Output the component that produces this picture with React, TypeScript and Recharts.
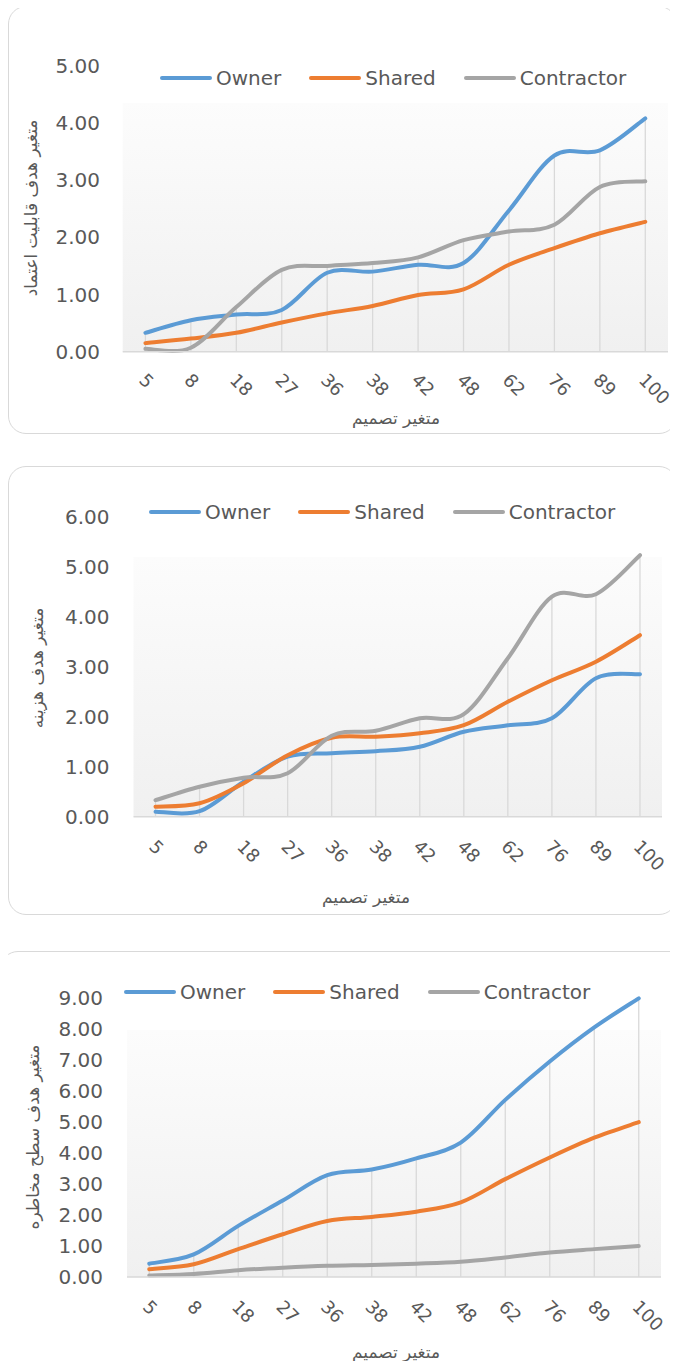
import React from 'react';
import { LineChart, Line, XAxis, YAxis, ReferenceLine, CartesianGrid, Legend } from 'recharts';

// x categories shared by all three charts
const categories = ['5', '8', '18', '27', '36', '38', '42', '48', '62', '76', '89', '100'];
const seriesNames = ['Owner', 'Shared', 'Contractor'];
const seriesColors = ['#5B9BD5', '#ED7D31', '#A5A5A5'];

// chart 1 - reliability objective
const reliabilityOwner = [0.33, 0.55, 0.65, 0.73, 1.38, 1.40, 1.52, 1.55, 2.47, 3.43, 3.52, 4.08];
const reliabilityShared = [0.15, 0.23, 0.33, 0.51, 0.67, 0.80, 0.99, 1.09, 1.52, 1.81, 2.07, 2.27];
const reliabilityContractor = [0.05, 0.07, 0.78, 1.43, 1.50, 1.55, 1.65, 1.95, 2.10, 2.22, 2.88, 2.98];
const reliabilityTicks = [0, 1, 2, 3, 4, 5];

// chart 2 - cost objective
const costOwner = [0.10, 0.11, 0.70, 1.20, 1.27, 1.31, 1.40, 1.70, 1.83, 1.97, 2.77, 2.85];
const costShared = [0.20, 0.27, 0.67, 1.23, 1.58, 1.60, 1.67, 1.83, 2.30, 2.73, 3.10, 3.63];
const costContractor = [0.33, 0.60, 0.78, 0.87, 1.62, 1.72, 1.97, 2.05, 3.17, 4.40, 4.45, 5.23];
const costTicks = [0, 1, 2, 3, 4, 5, 6];

// chart 3 - risk level objective
const riskOwner = [0.43, 0.73, 1.65, 2.47, 3.29, 3.47, 3.83, 4.34, 5.72, 6.96, 8.06, 9.00];
const riskShared = [0.25, 0.41, 0.90, 1.38, 1.81, 1.94, 2.11, 2.41, 3.16, 3.86, 4.50, 5.00];
const riskContractor = [0.05, 0.10, 0.22, 0.30, 0.36, 0.39, 0.43, 0.49, 0.63, 0.79, 0.90, 1.00];
const riskTicks = [0, 1, 2, 3, 4, 5, 6, 7, 8, 9];

const FONT = '"DejaVu Sans", sans-serif';
const TEXT = '#595959';
const GRID = '#d9d9d9';
const XAXIS_H = 60;

// Excel style smoothed line (catmull-rom through the points)
const excelSmooth = (context: any) => {
  let pts: number[][] = [];
  return {
    areaStart() {},
    areaEnd() {},
    lineStart() {
      pts = [];
    },
    point(x: number, y: number) {
      pts.push([x, y]);
    },
    lineEnd() {
      if (!pts.length) return;
      context.moveTo(pts[0][0], pts[0][1]);
      for (let i = 0; i < pts.length - 1; i++) {
        const p0 = pts[i - 1] || pts[i];
        const p1 = pts[i];
        const p2 = pts[i + 1];
        const p3 = pts[i + 2] || p2;
        context.bezierCurveTo(
          p1[0] + (p2[0] - p0[0]) / 6,
          p1[1] + (p2[1] - p0[1]) / 6,
          p2[0] - (p3[0] - p1[0]) / 6,
          p2[1] - (p3[1] - p1[1]) / 6,
          p2[0],
          p2[1]
        );
      }
    },
  };
};

const buildRows = (owner: number[], shared: number[], contractor: number[]) =>
  categories.map((cat, i) => ({
    cat,
    Owner: owner[i],
    Shared: shared[i],
    Contractor: contractor[i],
    peak: Math.max(owner[i], shared[i], contractor[i]),
  }));

type Layout = {
  top: number;
  height: number;
  plotTop: number;
  plotBottom: number;
  plotLeft: number;
  plotRight: number;
  bgTop: number;
  tickGap: number;
  xTickDy: number;
  legendLeft: number;
  legendY: number;
  yTitleX: number;
  yTitleY: number;
  xTitleX: number;
  xTitleY: number;
};

const YTick = (props: any) => {
  const { x, y, payload } = props;
  return (
    <text x={x} y={y} dy={7} textAnchor="end" fontFamily={FONT} fontSize={20} fill={TEXT}>
      {Number(payload.value).toFixed(2)}
    </text>
  );
};

const XTick = (props: any) => {
  const { x, y, payload, shiftY } = props;
  const tx = x - 7.5;
  const ty = y + shiftY;
  return (
    <text x={tx} y={ty} transform={`rotate(45 ${tx} ${ty})`} textAnchor="start" fontFamily={FONT} fontSize={18} fill={TEXT}>
      {payload.value}
    </text>
  );
};

const AxisTitle = (props: any) => {
  const { px, py, rot, title } = props;
  return (
    <text
      x={px}
      y={py}
      transform={rot ? `rotate(${rot} ${px} ${py})` : undefined}
      textAnchor="middle"
      dominantBaseline="central"
      fontFamily={FONT}
      fontSize={17}
      fill={TEXT}
    >
      {title}
    </text>
  );
};

const LegendRow = (props: any) => {
  const items = [...(props.payload || [])].sort(
    (a: any, b: any) => seriesNames.indexOf(a.value) - seriesNames.indexOf(b.value)
  );
  return (
    <div style={{ display: 'flex', alignItems: 'center', fontFamily: FONT, fontSize: 20, color: TEXT, whiteSpace: 'nowrap', lineHeight: '24px' }}>
      {items.map((p: any) => (
        <div key={p.value} style={{ display: 'flex', alignItems: 'center', marginRight: 28 }}>
          <span style={{ display: 'inline-block', width: 52, height: 4, borderRadius: 2, background: p.color, marginRight: 4 }} />
          <span>{p.value}</span>
        </div>
      ))}
    </div>
  );
};

type ChartProps = {
  id: string;
  layout: Layout;
  rows: any[];
  ticks: number[];
  yTitle: string;
  xTitle: string;
};

const ObjectiveChart = ({ id, layout, rows, ticks, yTitle, xTitle }: ChartProps) => {
  const L = layout;
  const band = (L.plotRight - L.plotLeft) / categories.length;
  const yMax = ticks[ticks.length - 1];
  const fadeStop = 1 - L.bgTop / yMax;
  return (
    <div style={{ position: 'absolute', left: 0, top: L.top }}>
      <LineChart
        width={678}
        height={L.height}
        data={rows}
        margin={{
          top: L.plotTop - L.top,
          left: 0,
          right: 678 - L.plotRight,
          bottom: L.top + L.height - L.plotBottom - XAXIS_H,
        }}
      >
        <defs>
          <linearGradient id={`bg-${id}`} x1="0" y1="0" x2="0" y2="1">
            <stop offset="0%" stopColor="#ffffff" />
            <stop offset={fadeStop} stopColor="#ffffff" />
            <stop offset={fadeStop} stopColor="#fcfcfc" />
            <stop offset="100%" stopColor="#f0f0f0" />
          </linearGradient>
        </defs>
        <CartesianGrid horizontal={false} vertical={false} fill={`url(#bg-${id})`} fillOpacity={1} />
        <XAxis
          dataKey="cat"
          type="category"
          height={XAXIS_H}
          padding={{ left: band / 2, right: band / 2 }}
          axisLine={{ stroke: GRID, strokeWidth: 1.5 }}
          tickLine={false}
          tickSize={0}
          tickMargin={0}
          interval={0}
          tick={<XTick shiftY={L.xTickDy} />}
          label={<AxisTitle px={L.xTitleX} py={L.xTitleY - L.top} title={xTitle} />}
        />
        <YAxis
          type="number"
          domain={[0, yMax]}
          ticks={ticks}
          width={L.plotLeft}
          axisLine={false}
          tickLine={false}
          tickSize={0}
          tickMargin={L.tickGap}
          interval={0}
          tick={<YTick />}
          label={<AxisTitle px={L.yTitleX} py={L.yTitleY - L.top} rot={-90} title={yTitle} />}
        />
        {rows.map((r) => (
          <ReferenceLine
            key={r.cat}
            segment={[
              { x: r.cat, y: 0 },
              { x: r.cat, y: r.peak },
            ]}
            stroke={GRID}
            strokeWidth={1.3}
          />
        ))}
        <Legend
          layout="horizontal"
          verticalAlign="middle"
          align="center"
          content={<LegendRow />}
          wrapperStyle={{ left: L.legendLeft, top: L.legendY - L.top - 12, width: 'auto', height: 24 }}
        />
        {seriesNames.map((name, i) => (
          <Line
            key={name}
            dataKey={name}
            name={name}
            type={excelSmooth as any}
            stroke={seriesColors[i]}
            strokeWidth={4}
            strokeLinecap="round"
            dot={false}
            activeDot={false}
            isAnimationActive={false}
          />
        ))}
      </LineChart>
    </div>
  );
};

const reliabilityLayout: Layout = {
  top: 0, height: 440, plotTop: 65.7, plotBottom: 351.7, plotLeft: 122.7, plotRight: 668,
  bgTop: 4.35, tickGap: 22.7, xTickDy: 29.5, legendLeft: 160, legendY: 78,
  yTitleX: 31, yTitleY: 208, xTitleX: 396, xTitleY: 418,
};

const costLayout: Layout = {
  top: 460, height: 460, plotTop: 516.7, plotBottom: 816.7, plotLeft: 133.5, plotRight: 662,
  bgTop: 5.2, tickGap: 24, xTickDy: 31, legendLeft: 149, legendY: 512,
  yTitleX: 37, yTitleY: 668, xTitleX: 366, xTitleY: 897,
};

const riskLayout: Layout = {
  top: 945, height: 424, plotTop: 998.3, plotBottom: 1277, plotLeft: 127, plotRight: 661,
  bgTop: 7.97, tickGap: 24, xTickDy: 31, legendLeft: 124, legendY: 992,
  yTitleX: 33, yTitleY: 1137, xTitleX: 396, xTitleY: 1352,
};

const cardStyle = (left: number, top: number, width: number, height: number): React.CSSProperties => ({
  position: 'absolute',
  left,
  top,
  width,
  height,
  boxSizing: 'border-box',
  border: `1.5px solid ${GRID}`,
  borderRadius: 18,
  background: '#fff',
});

export default function App() {
  return (
    <div style={{ position: 'relative', margin: -8, width: 678, height: 1369, overflow: 'hidden', background: '#fff' }}>
      <div style={cardStyle(8, 6, 669, 428)} />
      <div style={cardStyle(8, 466, 669, 449)} />
      <div style={cardStyle(0, 951, 690, 417)} />
      <ObjectiveChart
        id="rel"
        layout={reliabilityLayout}
        rows={buildRows(reliabilityOwner, reliabilityShared, reliabilityContractor)}
        ticks={reliabilityTicks}
        yTitle="متغیر  هدف  قابلیت  اعتماد"
        xTitle="متغیر تصمیم"
      />
      <ObjectiveChart
        id="cost"
        layout={costLayout}
        rows={buildRows(costOwner, costShared, costContractor)}
        ticks={costTicks}
        yTitle="متغیر  هدف  هزینه"
        xTitle="متغیر تصمیم"
      />
      <ObjectiveChart
        id="risk"
        layout={riskLayout}
        rows={buildRows(riskOwner, riskShared, riskContractor)}
        ticks={riskTicks}
        yTitle="متغیر هدف سطح مخاطره"
        xTitle="متغیر تصمیم"
      />
    </div>
  );
}
